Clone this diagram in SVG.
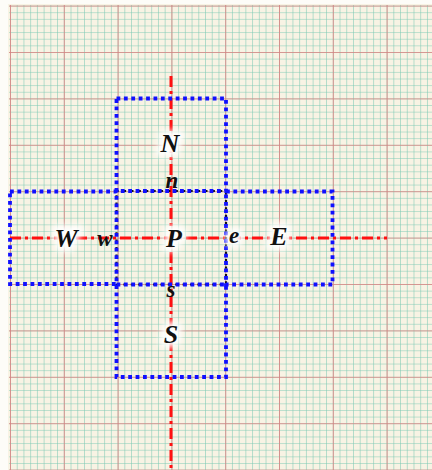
<svg xmlns="http://www.w3.org/2000/svg" width="432" height="470" viewBox="0 0 432 470">
<style>
.box{fill:none;stroke:#1010ff;stroke-width:3.8;stroke-dasharray:3.8 3.6}
.inner{fill:none;stroke:#111;stroke-width:2.2;stroke-dasharray:2.2 5.2}
.axis{fill:none;stroke:#ff1010;stroke-width:3;stroke-dasharray:11 4 3 4}
.lab{font-family:"Liberation Serif",serif;font-weight:bold;font-style:italic;fill:#111;text-anchor:middle}
.big{font-size:26px}
.sm{font-size:23px}
.halo{fill:#fff;stroke:#fff;stroke-width:9;stroke-linejoin:round;filter:url(#blur)}
</style>
<defs>
<filter id="blur" x="-50%" y="-50%" width="200%" height="200%"><feGaussianBlur stdDeviation="3"/></filter>
<pattern id="minor" patternUnits="userSpaceOnUse" x="10" y="5.6" width="6.725" height="6.629">
<path d="M0 0V6.629M0 0H6.725" stroke="#7cc9b3" stroke-width="1.1" fill="none"/>
</pattern>
<pattern id="major" patternUnits="userSpaceOnUse" x="10" y="5.6" width="53.8" height="46.4">
<path d="M0 0V46.4M0 0H53.8" stroke="#de7f7f" stroke-width="1.6" fill="none"/>
</pattern>
</defs>
<rect width="432" height="470" fill="#fdfcf8"/>
<g id="grid">
<rect x="8" y="4" width="424" height="466" fill="#f8f3e4"/>
<rect x="9" y="5" width="423" height="465" fill="url(#minor)"/>
<rect x="9" y="5" width="423" height="465" fill="url(#major)"/>
</g>
<g id="connectors">
<line class="axis" x1="10" y1="238" x2="387" y2="238"/>
<line class="axis" x1="171" y1="76" x2="171" y2="470"/>
</g>
<g id="cell-P"><rect class="inner" x="116.5" y="191" width="109.5" height="93.5"/></g>
<g id="cell-N"><rect class="box" x="116.5" y="98.5" width="109.5" height="92.5"/></g>
<g id="cell-W"><rect class="box" x="10" y="191.5" width="106.5" height="92.5"/></g>
<g id="cell-E"><rect class="box" x="226" y="191.5" width="106.5" height="93"/></g>
<g id="cell-S"><rect class="box" x="116.5" y="284.5" width="109.5" height="92.5"/></g>
<g id="label-N"><text class="lab big halo" x="170" y="152">N</text><text class="lab big" x="170" y="152">N</text></g>
<g id="label-n"><text class="lab sm" x="172" y="188">n</text></g>
<g id="label-W"><text class="lab big halo" x="66" y="247">W</text><text class="lab big" x="66" y="247">W</text></g>
<g id="label-w"><text class="lab sm" x="105" y="246">w</text></g>
<g id="label-P"><text class="lab big halo" x="174" y="247">P</text><text class="lab big" x="174" y="247">P</text></g>
<g id="label-e"><text class="lab sm halo" x="234" y="243">e</text><text class="lab sm" x="234" y="243">e</text></g>
<g id="label-E"><text class="lab big halo" x="279" y="245">E</text><text class="lab big" x="279" y="245">E</text></g>
<g id="label-s"><text class="lab sm" x="171" y="297">s</text></g>
<g id="label-S"><text class="lab big halo" x="171" y="343">S</text><text class="lab big" x="171" y="343">S</text></g>
</svg>
